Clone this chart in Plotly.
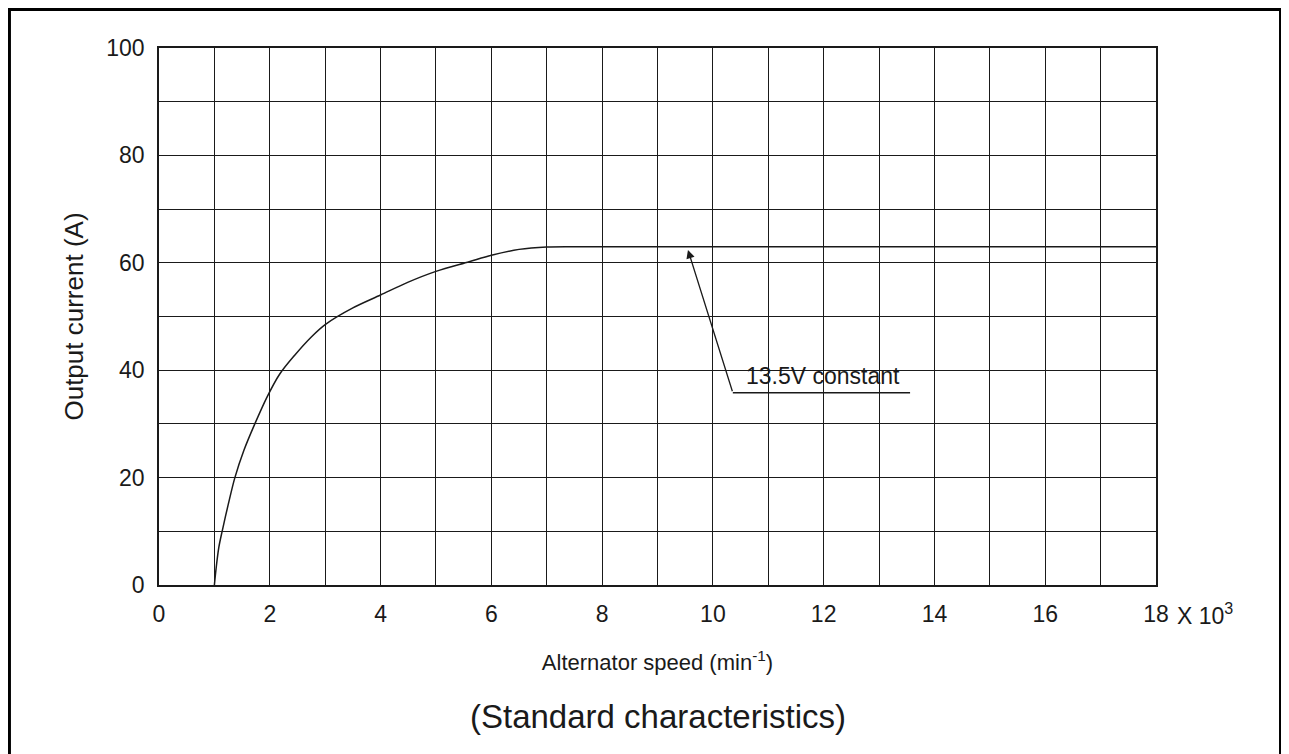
import plotly.graph_objects as go

# alternator output curve (speed in 10^3 min-1, current in A)
speed = [1.0, 1.03, 1.08, 1.14, 1.25, 1.37, 1.53, 1.73, 1.95, 2.18, 2.45, 2.75, 3.0,
         3.5, 4.0, 4.5, 5.0, 5.6, 6.0, 6.5, 7.0, 7.5, 8.0, 10.0, 12.0, 14.0, 16.0, 18.0]
current = [0, 3, 7, 10, 15, 20, 25, 30, 35, 39.3, 42.8, 46.2, 48.5,
           51.6, 54.0, 56.4, 58.4, 60.2, 61.4, 62.5, 62.95, 63, 63, 63, 63, 63, 63, 63]

x_ticks = [0, 2, 4, 6, 8, 10, 12, 14, 16, 18]
y_ticks = [0, 20, 40, 60, 80, 100]

# arrow: head on the flat part, tail at the label leader line
arrow_head = (9.55, 62.4)
arrow_tail = (10.36, 35.8)
leader_end = 13.56

FONT = "Liberation Sans, Arial, sans-serif"
INK = "#1a1a1a"

fig = go.Figure()
fig.add_trace(
    go.Scatter(
        x=speed,
        y=current,
        mode="lines",
        line=dict(color=INK, width=1.5, shape="spline", smoothing=0.9),
        showlegend=False,
        hoverinfo="skip",
    )
)

axis_common = dict(
    showline=True,
    mirror=True,
    linecolor=INK,
    linewidth=1.5,
    showgrid=False,
    zeroline=False,
    ticks="outside",
    tickcolor="rgba(0,0,0,0)",
    tickfont=dict(family=FONT, size=23, color=INK),
)

fig.update_xaxes(
    range=[0, 18],
    tickvals=x_ticks,
    ticktext=[str(v) for v in x_ticks],
    ticklen=8,
    minor=dict(dtick=1, showgrid=True, gridcolor=INK, gridwidth=1.3, ticks=""),
    title=dict(text="Alternator speed (min<sup>-1</sup>)", font=dict(family=FONT, size=22, color=INK),
               standoff=28),
    **axis_common,
)
fig.update_yaxes(
    range=[0, 100],
    tickvals=y_ticks,
    ticklen=8,
    minor=dict(dtick=10, showgrid=True, gridcolor=INK, gridwidth=1.3, ticks=""),
    title=dict(text="Output current (A)", font=dict(family=FONT, size=26, color=INK), standoff=15),
    **axis_common,
)

# arrow pointing at the constant-voltage line
fig.add_annotation(
    x=arrow_head[0], y=arrow_head[1], ax=arrow_tail[0], ay=arrow_tail[1],
    xref="x", yref="y", axref="x", ayref="y",
    text="", showarrow=True, arrowhead=2, arrowsize=1.3, arrowwidth=1.3, arrowcolor=INK,
)
fig.add_shape(type="line", xref="x", yref="y",
              x0=arrow_tail[0], y0=arrow_tail[1], x1=leader_end, y1=arrow_tail[1],
              line=dict(color=INK, width=1.3))
fig.add_annotation(
    x=(arrow_tail[0] + leader_end) / 2, y=arrow_tail[1], xref="x", yref="y",
    text="13.5V constant", showarrow=False, yanchor="bottom", yshift=2, xshift=2,
    font=dict(family=FONT, size=23, color=INK),
)

# "X 10^3" multiplier after the last tick label
fig.add_annotation(
    x=18, y=0, xref="x", yref="y", text="X 10<sup>3</sup>",
    showarrow=False, xanchor="left", yanchor="top", yshift=-12, xshift=19,
    font=dict(family=FONT, size=23, color=INK),
)

# caption
fig.add_annotation(
    x=0.5, y=-0.245, xref="paper", yref="paper", text="(Standard characteristics)",
    showarrow=False, yanchor="middle",
    font=dict(family=FONT, size=33, color=INK),
)

# outer frame of the figure panel (kept just inside the svg so it is not clipped)
fig.add_shape(type="rect", xref="paper", yref="paper",
              x0=-0.1500, x1=1.1249, y0=-0.36, y1=1.0717,
              line=dict(color="black", width=3), fillcolor="rgba(0,0,0,0)", layer="below")

# page has an 8px body margin, so pull the plot area up/left by that much
fig.update_layout(
    width=1289,
    height=754,
    margin=dict(l=151, r=141, t=40, b=177),
    paper_bgcolor="white",
    plot_bgcolor="white",
    font=dict(family=FONT, color=INK),
)

fig.write_html("out.html")
